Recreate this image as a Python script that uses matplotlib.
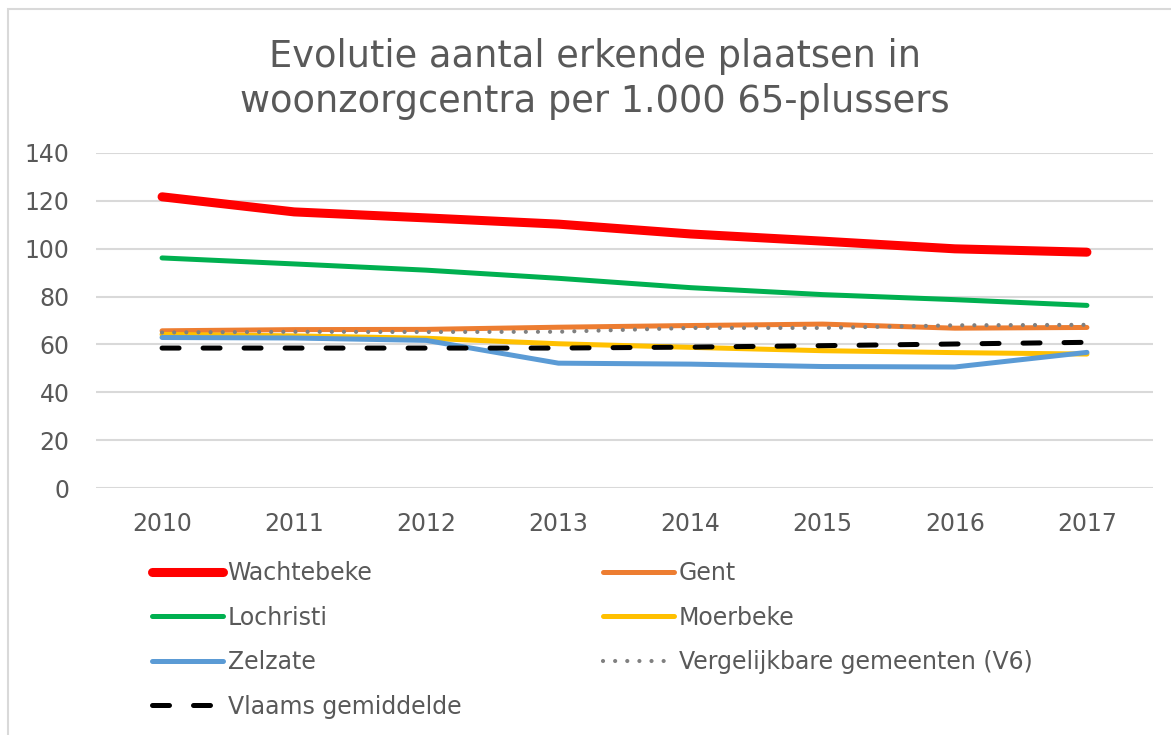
import matplotlib
matplotlib.use("Agg")
import matplotlib.pyplot as plt
from matplotlib.patches import Rectangle

W, H = 1171, 735

years = ["2010", "2011", "2012", "2013", "2014", "2015", "2016", "2017"]

wachtebeke = [121.6, 115.3, 112.8, 110.2, 106.1, 103.1, 99.9, 98.5]
gent = [65.7, 66.2, 66.3, 67.2, 67.9, 68.5, 66.8, 67.1]
lochristi = [96.1, 93.6, 91.0, 87.6, 83.7, 80.8, 78.7, 76.3]
moerbeke = [64.2, 63.6, 62.6, 60.3, 58.8, 57.4, 56.6, 56.0]
zelzate = [62.9, 62.7, 61.7, 52.2, 51.8, 50.8, 50.6, 56.7]
v6 = [65.0, 65.3, 65.2, 65.3, 66.9, 66.9, 68.0, 68.2]
vlaams = [58.5, 58.5, 58.5, 58.5, 58.9, 59.5, 60.2, 60.9]

txt = "#595959"
grid = "#D9D9D9"

fig = plt.figure(figsize=(W / 100, H / 100), dpi=100)

def px(x, y):
    # pixel position (from top-left) -> figure fraction
    return x / W, 1 - y / H

ax_l, ax_b = px(96, 488.3)
ax_r, ax_t = px(1153, 152.7)
ax = fig.add_axes([ax_l, ax_b, ax_r - ax_l, ax_t - ax_b])

x = range(len(years))
ax.plot(x, wachtebeke, color="#FF0000", lw=6.5, solid_capstyle="round", label="Wachtebeke")
ax.plot(x, gent, color="#ED7D31", lw=3.6, solid_capstyle="round", label="Gent")
ax.plot(x, lochristi, color="#00B050", lw=3.6, solid_capstyle="round", label="Lochristi")
ax.plot(x, moerbeke, color="#FFC000", lw=3.6, solid_capstyle="round", label="Moerbeke")
ax.plot(x, zelzate, color="#5B9BD5", lw=3.6, solid_capstyle="round", label="Zelzate")
ax.plot(x, v6, color="#808080", lw=3.0, linestyle=(0, (0.01, 2.9)), dash_capstyle="round",
        label="Vergelijkbare gemeenten (V6)")
ax.plot(x, vlaams, color="black", lw=3.6, linestyle=(0, (3.4, 4.8)), dash_capstyle="round",
        label="Vlaams gemiddelde")

ax.set_xlim(-0.5, len(years) - 0.5)
ax.set_ylim(0, 140)
ax.set_yticks(range(0, 141, 20))
ax.set_xticks(list(x))
ax.set_xticklabels(years)
ax.yaxis.grid(True, color=grid, lw=1.5)
ax.set_axisbelow(True)
for s in ax.spines.values():
    s.set_visible(False)
ax.tick_params(axis="both", length=0, labelsize=17, colors=txt)
ax.tick_params(axis="y", pad=19)
ax.tick_params(axis="x", pad=17)

# title
fig.text(*px(595, 67), "Evolutie aantal erkende plaatsen in", ha="center", va="baseline",
         fontsize=26.5, color=txt)
fig.text(*px(595, 112), "woonzorgcentra per 1.000 65-plussers", ha="center", va="baseline",
         fontsize=26.5, color=txt)

# legend in two columns
h, l = ax.get_legend_handles_labels()
lab = dict(zip(l, h))
col1 = ["Wachtebeke", "Lochristi", "Zelzate", "Vlaams gemiddelde"]
col2 = ["Gent", "Moerbeke", "Vergelijkbare gemeenten (V6)"]
for names, xpos in [(col1, 152), (col2, 603)]:
    leg = fig.legend([lab[n] for n in names], names, loc="upper left",
                     bbox_to_anchor=px(xpos, 561), frameon=False, fontsize=17,
                     handlelength=3.0, handletextpad=0.2, labelspacing=0.87,
                     borderpad=0, borderaxespad=0)
    for t in leg.get_texts():
        t.set_color(txt)

fig.patches.append(Rectangle(px(8, 745), (W + 20) / W, (745 - 9) / H, transform=fig.transFigure,
                             fill=False, edgecolor=grid, lw=1.5))

fig.savefig("out.png", dpi=100)
